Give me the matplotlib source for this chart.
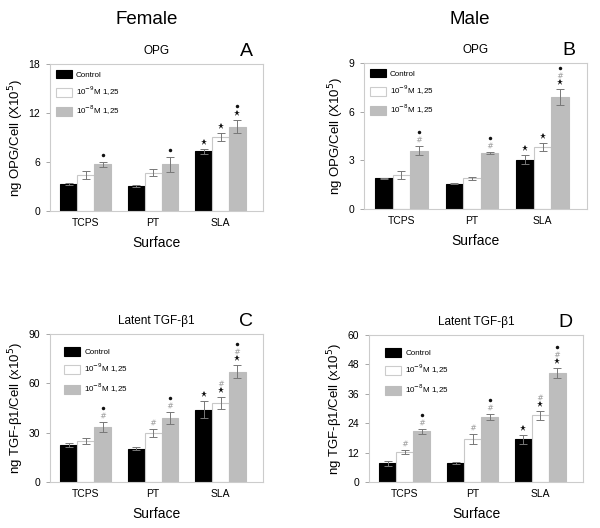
import matplotlib
matplotlib.use("Agg")
import matplotlib.pyplot as plt
import matplotlib.transforms as mtrans
import numpy as np

plt.rcParams['font.family'] = ['Liberation Sans', 'DejaVu Sans']

surfaces = ["TCPS", "PT", "SLA"]
series_names = ["Control", "10$^{-9}$M 1,25", "10$^{-8}$M 1,25"]

# significance marks listed bottom to top: * (vs TCPS), # (vs control), • (vs 10-9)
# Panel A: Female OPG
a_vals = [[3.3, 3.1, 7.3], [4.4, 4.7, 9.1], [5.7, 5.7, 10.3]]
a_errs = [[0.1, 0.1, 0.3], [0.5, 0.4, 0.5], [0.3, 0.9, 0.8]]
a_marks = [["", "", "*"], ["", "", "*"], ["•", "•", "*•"]]

# Panel B: Male OPG
b_vals = [[1.9, 1.55, 3.05], [2.1, 1.9, 3.8], [3.6, 3.45, 6.9]]
b_errs = [[0.03, 0.03, 0.3], [0.22, 0.1, 0.25], [0.27, 0.08, 0.5]]
b_marks = [["", "", "*"], ["", "", "*"], ["#•", "#•", "*#•"]]

# Panel C: Female TGF-b1
c_vals = [[22.5, 20.2, 44.0], [25.0, 29.6, 48.0], [33.5, 39.0, 67.0]]
c_errs = [[1.0, 0.8, 5.0], [2.0, 2.5, 3.5], [3.0, 3.5, 4.0]]
c_marks = [["", "", "*"], ["", "#", "*#"], ["#•", "#•", "*#•"]]

# Panel D: Male TGF-b1
d_vals = [[7.7, 7.8, 17.5], [12.1, 17.5, 27.2], [20.7, 26.6, 44.6]]
d_errs = [[1.0, 0.3, 1.8], [0.8, 2.0, 1.8], [1.0, 1.2, 2.0]]
d_marks = [["", "", "*"], ["#", "#", "*#"], ["#•", "#•", "*#•"]]

colors = ["#000000", "#ffffff", "#bdbdbd"]
edges = ["#000000", "#c8c8c8", "#bdbdbd"]

fig = plt.figure(figsize=(6.0, 5.28), dpi=100)
W, H = 600, 528

def ax_at(l, t, r, b):
    return fig.add_axes([l / W, 1 - b / H, (r - l) / W, (b - t) / H])

panels = [
    (ax_at(50, 64, 263, 211), a_vals, a_errs, a_marks, 18, 6, "OPG", "A", "ng OPG/Cell (X10$^5$)", (0.0, 1.0)),
    (ax_at(364, 63, 587, 209), b_vals, b_errs, b_marks, 9, 3, "OPG", "B", "ng OPG/Cell (X10$^5$)", (0.0, 1.0)),
    (ax_at(50, 334, 263, 482), c_vals, c_errs, c_marks, 90, 30, "Latent TGF-β1", "C", "ng TGF-β1/Cell (x10$^5$)", (0.04, 0.95)),
    (ax_at(369, 335, 583, 482), d_vals, d_errs, d_marks, 60, 12, "Latent TGF-β1", "D", "ng TGF-β1/Cell (x10$^5$)", (0.05, 0.95)),
]

mark_style = {"*": dict(marker="*", markersize=4.5, color="#111111", markeredgewidth=0),
              "#": dict(marker="$\\#$", markersize=4, color="#999999", markeredgewidth=0),
              "•": dict(marker="o", markersize=2.5, color="#111111", markeredgewidth=0)}

x = np.arange(len(surfaces))
w = 0.25
for ax, vals, errs, marks, ymax, ystep, title, letter, ylabel, lpos in panels:
    for i in range(3):
        xs = x + (i - 1) * w
        ax.bar(xs, vals[i], width=w, color=colors[i], edgecolor=edges[i], linewidth=0.8,
               label=series_names[i], zorder=2)
        ax.errorbar(xs, vals[i], yerr=errs[i], fmt="none", ecolor="#777777",
                    elinewidth=0.7, capsize=3, capthick=0.7, zorder=3)
        for j in range(3):
            for k, ch in enumerate(marks[i][j]):
                dy = 5.0 + 5.0 * k
                tr = mtrans.offset_copy(ax.transData, fig=fig, x=0, y=dy, units="points")
                ax.plot([xs[j]], [vals[i][j] + errs[i][j]], linestyle="none",
                        transform=tr, clip_on=False, zorder=4, **mark_style[ch])
    ax.set_xlim(-0.53, 2.63)
    ax.set_ylim(0, ymax)
    ax.set_yticks(np.arange(0, ymax + 0.01, ystep))
    ax.set_xticks(x)
    ax.set_xticklabels(surfaces)
    ax.tick_params(axis="both", labelsize=7.5, length=3, color="#999999", width=0.6)
    ax.tick_params(axis="x", length=0, pad=5)
    ax.tick_params(axis="y", pad=4)
    for s in ax.spines.values():
        s.set_color("#cccccc")
        s.set_linewidth(0.8)
    ax.set_xlabel("Surface", fontsize=10, labelpad=6)
    ax.set_ylabel(ylabel, fontsize=9.5, labelpad=2)
    ax.set_title(title, fontsize=8.5, pad=7)
    ax.text(0.92, 1.03, letter, transform=ax.transAxes, fontsize=14, ha="center", va="bottom")
    leg = ax.legend(loc="upper left", bbox_to_anchor=lpos, frameon=False, fontsize=5.8,
                    handlelength=2.0, handleheight=1.3, labelspacing=0.75,
                    borderaxespad=0.3, handletextpad=0.5)
    for p in leg.get_patches():
        if p.get_facecolor()[0] > 0.9:
            p.set_edgecolor("#cccccc")

fig.text(147 / W, 1 - 20 / H, "Female", fontsize=13.5, ha="center", va="center")
fig.text(470 / W, 1 - 20 / H, "Male", fontsize=13.5, ha="center", va="center")

fig.savefig("out.png", dpi=100)
